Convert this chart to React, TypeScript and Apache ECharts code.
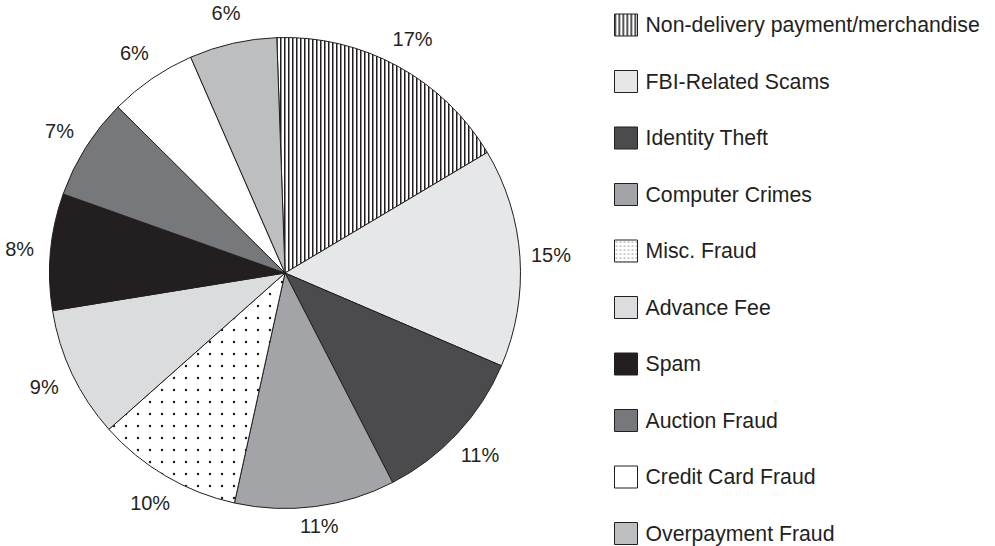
import React, { useEffect, useRef } from 'react';
import * as echarts from 'echarts';

const categories = [
  'Non-delivery payment/merchandise',
  'FBI-Related Scams',
  'Identity Theft',
  'Computer Crimes',
  'Misc. Fraud',
  'Advance Fee',
  'Spam',
  'Auction Fraud',
  'Credit Card Fraud',
  'Overpayment Fraud',
];
const shares = [17, 15, 11, 11, 10, 9, 8, 7, 6, 6];

const INK = '#231f20';
const FONT = '"Liberation Sans", Arial, Helvetica, sans-serif';
const CHART_W = 995;
const CHART_H = 546;

function stripePattern() {
  const c = document.createElement('canvas');
  c.width = 4;
  c.height = 4;
  const ctx = c.getContext('2d')!;
  ctx.fillStyle = '#ffffff';
  ctx.fillRect(0, 0, 4, 4);
  ctx.fillStyle = INK;
  ctx.fillRect(0, 0, 1, 4);
  ctx.fillStyle = '#8a8a8a';
  ctx.fillRect(1, 0, 1, 4);
  return { image: c, repeat: 'repeat', imageWidth: 4, imageHeight: 4 };
}

function dotPattern(size: number, r: number) {
  const c = document.createElement('canvas');
  c.width = size;
  c.height = size;
  const ctx = c.getContext('2d')!;
  ctx.fillStyle = '#ffffff';
  ctx.fillRect(0, 0, size, size);
  ctx.fillStyle = INK;
  ctx.beginPath();
  ctx.arc(size / 2, size / 2, r, 0, Math.PI * 2);
  ctx.fill();
  return { image: c, repeat: 'repeat', imageWidth: size, imageHeight: size };
}

export default function App() {
  const ref = useRef<HTMLDivElement>(null);
  useEffect(() => {
    if (!ref.current) return;
    const chart = echarts.init(ref.current, null, { renderer: 'svg' });
    const fills: any[] = [
      stripePattern(),
      '#e6e7e8',
      '#4b4b4d',
      '#a3a4a7',
      dotPattern(12, 1.25),
      '#dbdcde',
      INK,
      '#77787b',
      '#ffffff',
      '#bcbec0',
    ];
    const legendFills: any[] = fills.slice();
    legendFills[4] = dotPattern(4, 0.6);
    const center = [285, 273];
    chart.setOption({
      animation: false,
      backgroundColor: '#ffffff',
      legend: {
        type: 'plain',
        orient: 'vertical',
        left: 614,
        top: 13.5,
        height: 600,
        padding: 0,
        itemWidth: 23,
        itemHeight: 22,
        itemGap: 33.5,
        icon: 'rect',
        selectedMode: false,
        data: categories.map((name, i) => ({
          name,
          itemStyle: { color: legendFills[i], borderColor: INK, borderWidth: 1 },
        })),
        itemStyle: { borderColor: INK, borderWidth: 1 },
        textStyle: {
          fontSize: 21.25,
          lineHeight: 22,
          color: INK,
          fontFamily: FONT,
          padding: [0, 0, 0, 3],
        },
      },
      series: [
        {
          type: 'pie',
          center,
          radius: 235.5,
          startAngle: 92,
          clockwise: true,
          data: categories.map((name, i) => ({
            name,
            value: shares[i],
            itemStyle: { color: fills[i] },
          })),
          itemStyle: { borderColor: INK, borderWidth: 1 },
          label: { show: false },
          labelLine: { show: false },
          emphasis: { disabled: true },
        },
        {
          type: 'pie',
          silent: true,
          center,
          radius: [235.5, 291.5],
          startAngle: 92,
          clockwise: true,
          data: categories.map((name, i) => ({ name, value: shares[i] })),
          itemStyle: { color: 'rgba(0,0,0,0)', borderWidth: 0 },
          label: {
            show: true,
            position: 'inside',
            formatter: (p: any) => p.value + '%',
            fontSize: 20,
            color: INK,
            fontFamily: FONT,
          },
          labelLine: { show: false },
          labelLayout: (params: any) => {
            const r = params.labelRect;
            const limit = CHART_H - 10;
            const bottom = r.y + r.height;
            if (bottom > limit) {
              return { y: r.y + r.height / 2 - (bottom - limit) };
            }
            return {};
          },
          emphasis: { disabled: true },
        },
      ],
    });
    return () => chart.dispose();
  }, []);
  return (
    <div
      ref={ref}
      style={{
        position: 'fixed',
        left: 0,
        top: 0,
        width: CHART_W,
        height: CHART_H,
        background: '#fff',
      }}
    />
  );
}
